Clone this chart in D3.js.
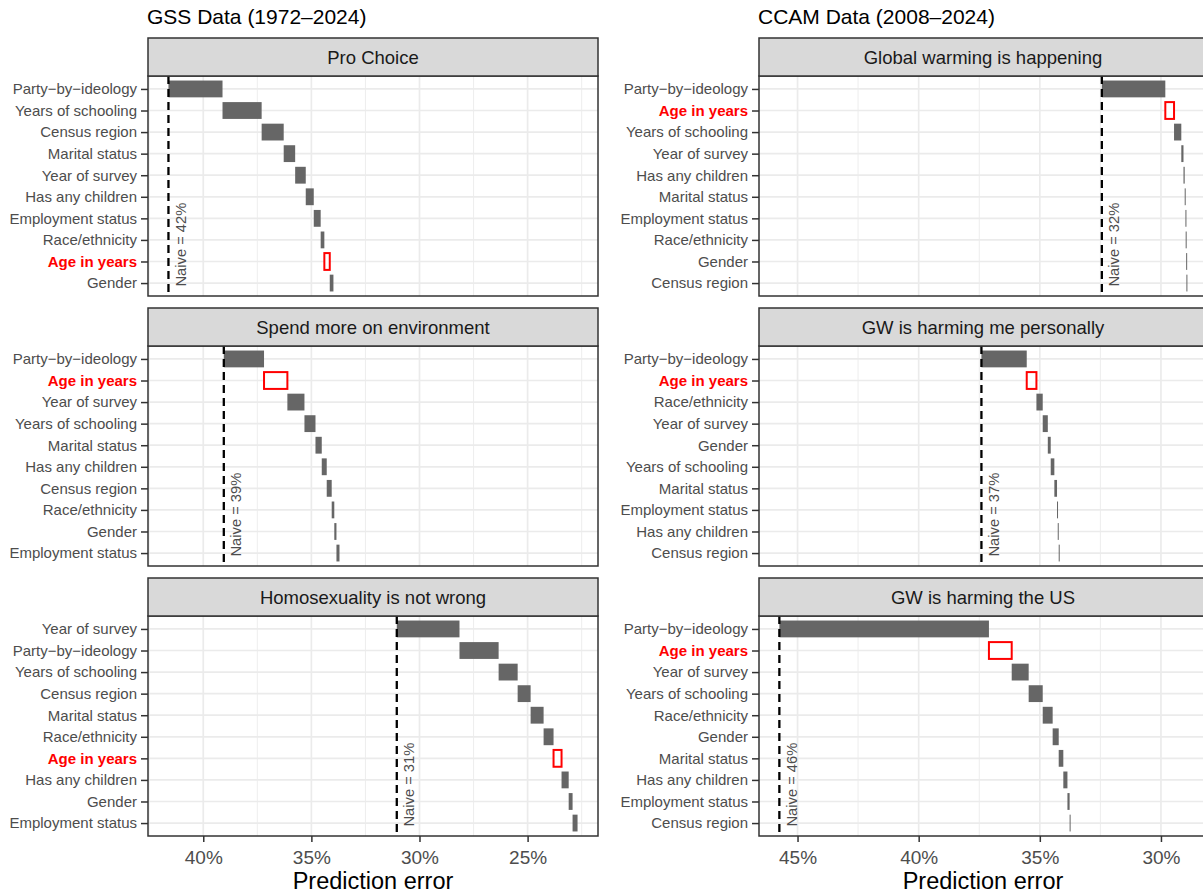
<!DOCTYPE html>
<html>
<head>
<meta charset="utf-8">
<script src="https://cdn.jsdelivr.net/npm/d3@7"></script>
<style>
  body { margin: 0; background: #fff; }
  svg { display: block; font-family: "Liberation Sans", Arial, Helvetica, sans-serif; }
</style>
</head>
<body>
<div id="chart"></div>
<script>
// Waterfall of prediction error: naive error, then error after each variable is added
const proChoiceVars = ["Party−by−ideology", "Years of schooling", "Census region", "Marital status", "Year of survey",
  "Has any children", "Employment status", "Race/ethnicity", "Age in years", "Gender"];
const proChoiceErr = [39.11, 37.30, 36.28, 35.75, 35.26, 34.89, 34.57, 34.40, 34.15, 33.98];
const proChoiceNaive = 41.61;

const spendEnvVars = ["Party−by−ideology", "Age in years", "Year of survey", "Years of schooling", "Marital status",
  "Has any children", "Census region", "Race/ethnicity", "Gender", "Employment status"];
const spendEnvErr = [37.19, 36.11, 35.32, 34.81, 34.52, 34.29, 34.06, 33.94, 33.84, 33.70];
const spendEnvNaive = 39.05;

const homosexVars = ["Year of survey", "Party−by−ideology", "Years of schooling", "Census region", "Marital status",
  "Race/ethnicity", "Age in years", "Has any children", "Gender", "Employment status"];
const homosexErr = [28.15, 26.34, 25.46, 24.86, 24.26, 23.80, 23.43, 23.10, 22.92, 22.69];
const homosexNaive = 31.05;

const gwHappeningVars = ["Party−by−ideology", "Age in years", "Years of schooling", "Year of survey", "Has any children",
  "Marital status", "Employment status", "Race/ethnicity", "Gender", "Census region"];
const gwHappeningErr = [29.82, 29.46, 29.16, 29.07, 29.02, 28.99, 28.98, 28.96, 28.95, 28.94];
const gwHappeningNaive = 32.44;

const gwMeVars = ["Party−by−ideology", "Age in years", "Race/ethnicity", "Year of survey", "Gender",
  "Years of schooling", "Marital status", "Employment status", "Has any children", "Census region"];
const gwMeErr = [35.54, 35.14, 34.88, 34.67, 34.55, 34.40, 34.29, 34.26, 34.22, 34.19];
const gwMeNaive = 37.41;

const gwUSVars = ["Party−by−ideology", "Age in years", "Year of survey", "Years of schooling", "Race/ethnicity",
  "Gender", "Marital status", "Has any children", "Employment status", "Census region"];
const gwUSErr = [37.10, 36.16, 35.46, 34.88, 34.47, 34.22, 34.03, 33.86, 33.77, 33.74];
const gwUSNaive = 45.75;

const gssTicks = [40, 35, 30, 25];
const gssMinor = [42.5, 37.5, 32.5, 27.5, 22.5];
const ccamTicks = [45, 40, 35, 30];
const ccamMinor = [42.5, 37.5, 32.5];

const highlight = "Age in years";

const width = 1203, height = 894;
const svg = d3.select("#chart").append("svg").attr("width", width).attr("height", height);

const columns = [
  {title: "GSS Data (1972–2024)", x0: 148, x1: 598, ticks: gssTicks, minor: gssMinor, panels: [
    {name: "Pro Choice", vars: proChoiceVars, err: proChoiceErr, naive: proChoiceNaive},
    {name: "Spend more on environment", vars: spendEnvVars, err: spendEnvErr, naive: spendEnvNaive},
    {name: "Homosexuality is not wrong", vars: homosexVars, err: homosexErr, naive: homosexNaive}
  ]},
  {title: "CCAM Data (2008–2024)", x0: 759, x1: 1207, ticks: ccamTicks, minor: ccamMinor, panels: [
    {name: "Global warming is happening", vars: gwHappeningVars, err: gwHappeningErr, naive: gwHappeningNaive},
    {name: "GW is harming me personally", vars: gwMeVars, err: gwMeErr, naive: gwMeNaive},
    {name: "GW is harming the US", vars: gwUSVars, err: gwUSErr, naive: gwUSNaive}
  ]}
];

const stripTop = 38, stripH = 38, plotH = 220, gap = 12;
const gridCol = "#EBEBEB", borderCol = "#333333", textCol = "#4D4D4D";

columns.forEach(col => {
  const vals = col.panels.flatMap(p => [p.naive, ...p.err]);
  const [lo, hi] = d3.extent(vals);
  const pad = (hi - lo) * 0.05;
  const x = d3.scaleLinear().domain([hi + pad, lo - pad]).range([col.x0, col.x1]);

  svg.append("text").attr("x", col.x0 - 1).attr("y", 23.5)
    .attr("font-size", 21).attr("fill", "#000").text(col.title);

  col.panels.forEach((p, i) => {
    const top = stripTop + i * (stripH + plotH + gap);
    const y0 = top + stripH, y1 = y0 + plotH;
    const y = d3.scalePoint().domain(p.vars).range([y0, y1]).padding(0.6);
    const bh = y.step() * 0.78;
    const g = svg.append("g");

    g.append("rect").attr("x", col.x0).attr("y", y0).attr("width", col.x1 - col.x0).attr("height", plotH).attr("fill", "#fff");

    // grid
    g.selectAll(null).data(col.minor).join("line")
      .attr("x1", d => x(d)).attr("x2", d => x(d)).attr("y1", y0).attr("y2", y1)
      .attr("stroke", gridCol).attr("stroke-width", 0.9);
    g.selectAll(null).data(col.ticks).join("line")
      .attr("x1", d => x(d)).attr("x2", d => x(d)).attr("y1", y0).attr("y2", y1)
      .attr("stroke", gridCol).attr("stroke-width", 1.7);
    g.selectAll(null).data(p.vars).join("line")
      .attr("x1", col.x0).attr("x2", col.x1).attr("y1", d => y(d)).attr("y2", d => y(d))
      .attr("stroke", gridCol).attr("stroke-width", 1.7);

    // bars
    const steps = p.vars.map((v, j) => ({v, from: j ? p.err[j - 1] : p.naive, to: p.err[j]}));
    g.selectAll(null).data(steps).join("rect")
      .attr("x", d => x(d.from))
      .attr("y", d => y(d.v) - bh / 2)
      .attr("width", d => Math.max(x(d.to) - x(d.from), 1))
      .attr("height", bh)
      .attr("fill", d => d.v === highlight ? "#fff" : "#666666")
      .attr("stroke", d => d.v === highlight ? "#FF0000" : "none")
      .attr("stroke-width", 2);

    // naive line + label
    g.append("line").attr("x1", x(p.naive)).attr("x2", x(p.naive)).attr("y1", y0).attr("y2", y1)
      .attr("stroke", "#000").attr("stroke-width", 2.3).attr("stroke-dasharray", "8,5");
    g.append("text")
      .attr("transform", `translate(${x(p.naive) + 12},${y1 - 9.5}) rotate(-90)`)
      .attr("dy", "0.36em").attr("font-size", 14.7).attr("fill", textCol)
      .text(`Naive = ${Math.round(p.naive)}%`);

    g.append("rect").attr("x", col.x0).attr("y", y0).attr("width", col.x1 - col.x0).attr("height", plotH)
      .attr("fill", "none").attr("stroke", borderCol).attr("stroke-width", 1.5);

    // strip
    g.append("rect").attr("x", col.x0).attr("y", top).attr("width", col.x1 - col.x0).attr("height", stripH)
      .attr("fill", "#D9D9D9").attr("stroke", borderCol).attr("stroke-width", 1.5);
    g.append("text").attr("x", (col.x0 + col.x1) / 2).attr("y", top + stripH / 2).attr("dy", "0.36em")
      .attr("text-anchor", "middle").attr("font-size", 18.5).attr("fill", "#1A1A1A").text(p.name);

    // y axis
    const ya = g.append("g").attr("transform", `translate(${col.x0},0)`)
      .call(d3.axisLeft(y).tickSize(7).tickPadding(4));
    ya.select(".domain").remove();
    ya.selectAll(".tick line").attr("stroke", borderCol).attr("stroke-width", 1.5);
    ya.selectAll(".tick text").attr("font-size", 15).attr("font-family", null)
      .attr("fill", d => d === highlight ? "#FF0000" : textCol)
      .attr("font-weight", d => d === highlight ? "bold" : "normal");

    // x axis on bottom panel only
    if (i === col.panels.length - 1) {
      const xa = g.append("g").attr("transform", `translate(0,${y1})`)
        .call(d3.axisBottom(x).tickValues(col.ticks).tickFormat(d => d + "%").tickSize(6).tickPadding(9));
      xa.select(".domain").remove();
      xa.selectAll(".tick line").attr("stroke", borderCol).attr("stroke-width", 1.5);
      xa.selectAll(".tick text").attr("font-size", 19).attr("font-family", null).attr("fill", textCol);
      g.append("text").attr("x", (col.x0 + col.x1) / 2).attr("y", 888.5).attr("text-anchor", "middle")
        .attr("font-size", 23.5).attr("fill", "#000").text("Prediction error");
    }
  });
});
</script>
</body>
</html>
